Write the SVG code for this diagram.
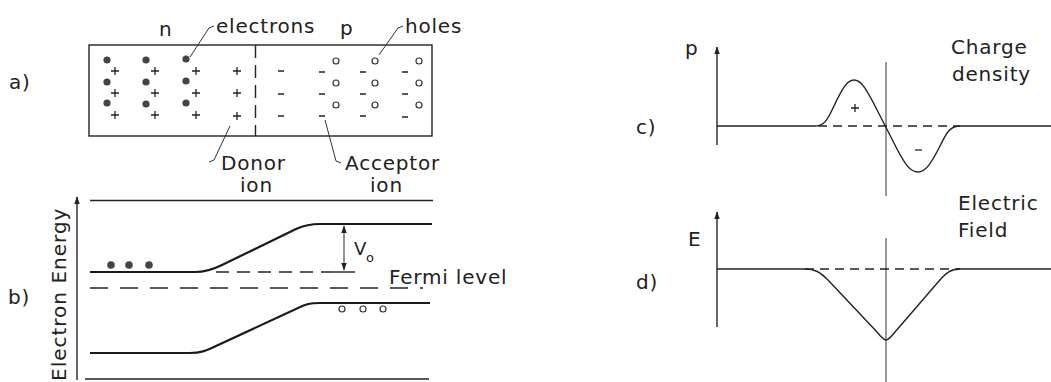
<svg xmlns="http://www.w3.org/2000/svg" width="1051" height="382" viewBox="0 0 1051 382">
<defs>
<style>
text{font-family:"DejaVu Sans","Liberation Sans",sans-serif;fill:#222;font-size:20px;letter-spacing:0.8px}
.ln{stroke:#222;fill:none;stroke-width:1.4}
.band{stroke:#1a1a1a;fill:none;stroke-width:2.2}
.thin{stroke:#333;fill:none;stroke-width:1}
.dash{stroke:#222;fill:none;stroke-width:1.4;stroke-dasharray:9 6}
.e{fill:#444}
.h{fill:#fff;stroke:#333;stroke-width:1.2}
.sg{stroke:#222;stroke-width:1.3}
</style>
<marker id="ah" viewBox="0 0 10 10" refX="9" refY="5" markerWidth="8" markerHeight="8" orient="auto-start-reverse" markerUnits="userSpaceOnUse">
<path d="M0,1.5 L10,5 L0,8.5 Z" fill="#222"/>
</marker>
</defs>
<rect width="1051" height="382" fill="#fff"/>

<!-- Panel a -->
<g id="panel-a">
<text x="9" y="89">a)</text>
<rect x="89" y="45" width="343" height="91" class="ln"/>
<line x1="255.5" y1="45" x2="255.5" y2="136" class="ln" stroke-dasharray="13 7"/>
<text x="159" y="36">n</text>
<text x="340" y="35">p</text>
<g id="electrons">
<circle cx="107" cy="60" r="3.6" class="e"/><circle cx="146" cy="60" r="3.6" class="e"/><circle cx="186" cy="59" r="3.6" class="e"/>
<circle cx="107" cy="82" r="3.6" class="e"/><circle cx="146" cy="82" r="3.6" class="e"/><circle cx="186" cy="81" r="3.6" class="e"/>
<circle cx="107" cy="103" r="3.6" class="e"/><circle cx="146" cy="104" r="3.6" class="e"/><circle cx="186" cy="103" r="3.6" class="e"/>
</g>
<g id="donors" class="sg">
<path d="M111,71h8M115,67v8M151,71h8M155,67v8M192,71h8M196,67v8M233,71h8M237,67v8"/>
<path d="M111,93h8M115,89v8M151,93h8M155,89v8M192,93h8M196,89v8M233,93h8M237,89v8"/>
<path d="M111,115h8M115,111v8M151,115h8M155,111v8M192,115h8M196,111v8M233,116h8M237,112v8"/>
</g>
<g id="holes">
<circle cx="336" cy="61" r="3" class="h"/><circle cx="375" cy="61" r="3" class="h"/><circle cx="419" cy="61" r="3" class="h"/>
<circle cx="336" cy="83" r="3" class="h"/><circle cx="375" cy="83" r="3" class="h"/><circle cx="419" cy="83" r="3" class="h"/>
<circle cx="336" cy="105" r="3" class="h"/><circle cx="375" cy="105" r="3" class="h"/><circle cx="419" cy="105" r="3" class="h"/>
</g>
<g id="acceptors" class="sg">
<path d="M278,71h6M278,94h6M278,116h6"/>
<path d="M319,72h6M319,94h6M319,116h6"/>
<path d="M360,72h6M360,94h6M360,116h6"/>
<path d="M402,72h6M402,94h6M402,117h6"/>
</g>
<text x="216" y="33">electrons</text>
<text x="405" y="33">holes</text>
<text x="221" y="170">Donor</text>
<text x="240" y="192">ion</text>
<text x="345" y="170">Acceptor</text>
<text x="370" y="192">ion</text>
</g>
<g id="leaders" class="thin">
<path d="M190,57 L209,28 L214,26"/>
<path d="M379,55 L398,28 L403,26"/>
<path d="M230,126 L214,160 L209,162"/>
<path d="M325,120 L336,161 L341,163"/>
</g>

<!-- Panel b -->
<g id="panel-b">
<text x="8" y="304">b)</text>
<text transform="translate(66,381) rotate(-90)" style="letter-spacing:1px">Electron Energy</text>
<line x1="77" y1="380" x2="77" y2="197" class="ln" marker-end="url(#ah)"/>
<line x1="90" y1="200.5" x2="433" y2="200.5" class="ln"/>
<line x1="85" y1="379" x2="429" y2="379" class="ln"/>
<path d="M90,272 L195,272 C205,272 212,270 222,265 L296,229 C305,225 310,224 320,224 L432,224" class="band"/>
<path d="M90,353 L190,353 C200,353 206,351 216,346 L298,308 C306,304 310,303 320,303 L430,303" class="band"/>
<line x1="216" y1="272" x2="332" y2="272" class="ln" stroke-dasharray="13 8"/>
<line x1="332" y1="272" x2="355" y2="272" class="ln"/>
<line x1="90" y1="288" x2="423" y2="288" class="ln" stroke-dasharray="18 12"/>
<line x1="344" y1="226" x2="344" y2="270" class="thin" marker-start="url(#ah)" marker-end="url(#ah)"/>
<text x="354" y="255" style="font-size:18px">V</text>
<text x="366" y="262" style="font-size:13px;letter-spacing:0">o</text>
<text x="389" y="284">Fermi level</text>
<circle cx="111" cy="265" r="3.8" class="e"/><circle cx="129" cy="265" r="3.8" class="e"/><circle cx="149" cy="265" r="3.8" class="e"/>
<circle cx="342" cy="309" r="3" class="h"/><circle cx="363" cy="309" r="3" class="h"/><circle cx="383" cy="309" r="3" class="h"/>
</g>

<!-- Panel c -->
<g id="panel-c">
<text x="636" y="134">c)</text>
<text x="685" y="55">p</text>
<text x="951" y="54">Charge</text>
<text x="952" y="81">density</text>
<line x1="717" y1="145" x2="717" y2="47" class="ln" marker-end="url(#ah)"/>
<line x1="886" y1="62" x2="886" y2="196" class="thin"/>
<line x1="818" y1="126" x2="960" y2="126" class="dash"/>
<path d="M717,126 L815,126 C824,126 827,121 834,106 C842,89 847,80 854,80 C861,80 866,89 873,102 L897,149 C905,164 910,172 918,172 C925,172 930,165 938,150 C946,134 949,126 960,126 L1051,126" class="ln" stroke-width="1.6"/>
<path d="M851,108h8M855,104v8" class="sg"/>
<path d="M915,150h7" class="sg"/>
</g>

<!-- Panel d -->
<g id="panel-d">
<text x="636" y="289">d)</text>
<text x="688" y="246" style="letter-spacing:0">E</text>
<text x="958" y="210">Electric</text>
<text x="958" y="237">Field</text>
<line x1="717" y1="327" x2="717" y2="212" class="ln" marker-end="url(#ah)"/>
<line x1="886" y1="238" x2="886" y2="382" class="thin"/>
<line x1="805" y1="269" x2="960" y2="269" class="dash"/>
<path d="M717,269 L805,269 C815,269 820,272 828,280 L877,332 C881,337 884,340 886,340 C888,340 891,337 895,332 L939,281 C947,272 951,269 960,269 L1051,269" class="ln" stroke-width="1.6"/>
</g>
</svg>
